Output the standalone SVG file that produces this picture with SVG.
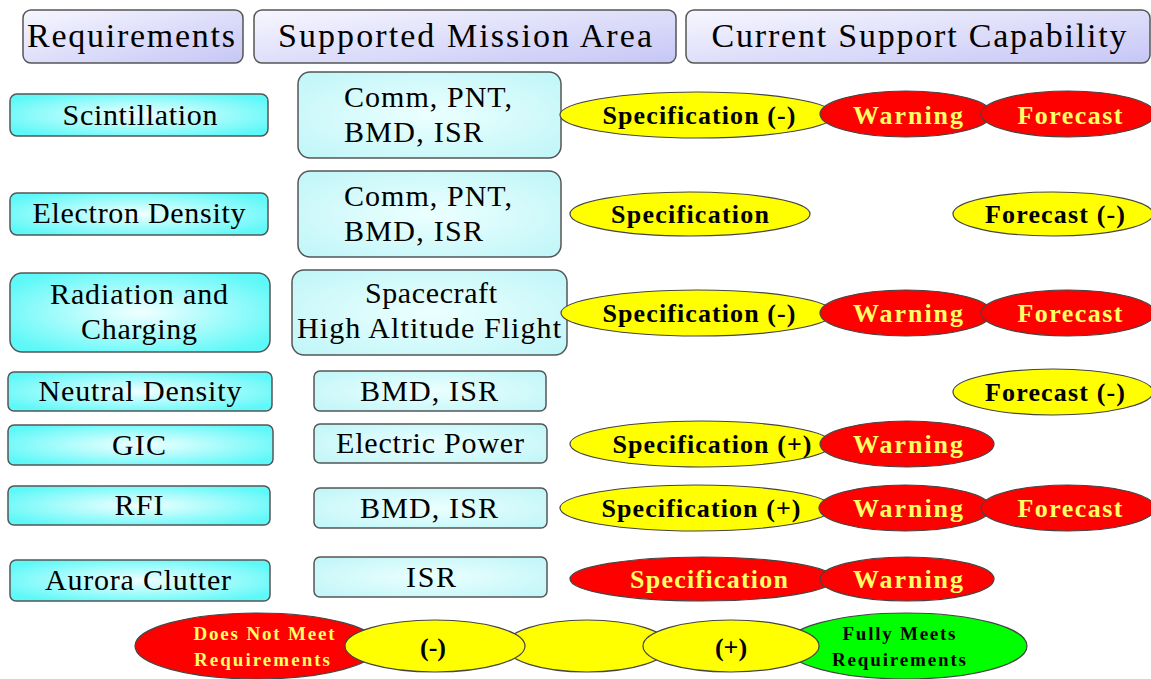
<svg xmlns="http://www.w3.org/2000/svg" width="1151" height="679" viewBox="0 0 1151 679">
<defs>
<linearGradient id="gHead" x1="0" y1="0" x2="1" y2="1">
<stop offset="0" stop-color="#f7f7ff"/>
<stop offset="1" stop-color="#c6c6f6"/>
</linearGradient>
<radialGradient id="gReq" cx="0.5" cy="0.5" r="0.6">
<stop offset="0" stop-color="#f2ffff"/>
<stop offset="1" stop-color="#5ef8f8"/>
</radialGradient>
<radialGradient id="gMis" cx="0.5" cy="0.5" r="0.65">
<stop offset="0" stop-color="#ecffff"/>
<stop offset="1" stop-color="#c2f6f8"/>
</radialGradient>
</defs>
<style>
text{font-family:'Liberation Serif','Times New Roman','DejaVu Serif',serif}
.hd{fill:url(#gHead);stroke:#555;stroke-width:1.5}
.rq{fill:url(#gReq);stroke:#555;stroke-width:1.5}
.ms{fill:url(#gMis);stroke:#555;stroke-width:1.5}
.ht{font-size:34px;fill:#000;text-anchor:middle}
.rt{font-size:30px;fill:#000;text-anchor:middle}
.y{fill:#ffff00;stroke:#444;stroke-width:1.2}
.r{fill:#ff0000;stroke:#444;stroke-width:1.2}
.g{fill:#00ff00;stroke:#444;stroke-width:1.2}
.et{font-weight:bold;font-size:26px;text-anchor:middle}
.k{fill:#000}
.w{fill:#ffff66}
.lt{font-weight:bold;font-size:19px;text-anchor:middle}
</style>
<rect width="1151" height="679" fill="#ffffff"/>

<g id="header-requirements">
<rect class="hd" x="23" y="10" width="220" height="53" rx="8"/>
<text class="ht" x="131" y="47" textLength="208" lengthAdjust="spacing">Requirements</text>
</g>
<g id="header-mission">
<rect class="hd" x="254" y="10" width="422" height="53" rx="8"/>
<text class="ht" x="465" y="47" textLength="374" lengthAdjust="spacing">Supported Mission Area</text>
</g>
<g id="header-capability">
<rect class="hd" x="686" y="10" width="464" height="53" rx="8"/>
<text class="ht" x="919" y="47" textLength="415" lengthAdjust="spacing">Current Support Capability</text>
</g>

<!-- Row 1 -->
<g id="req-scintillation">
<rect class="rq" x="10" y="94" width="258" height="42" rx="7"/>
<text class="rt" x="140" y="125" textLength="155" lengthAdjust="spacing">Scintillation</text>
</g>
<g id="mis-scintillation">
<rect class="ms" x="298" y="72" width="263" height="86" rx="12"/>
<text class="rt" x="344" y="107" style="text-anchor:start" textLength="168" lengthAdjust="spacing">Comm, PNT,</text>
<text class="rt" x="344" y="142" style="text-anchor:start" textLength="139" lengthAdjust="spacing">BMD, ISR</text>
</g>
<g id="cap-scintillation">
<ellipse class="y" cx="697" cy="115" rx="137" ry="23"/>
<text class="et k" x="699" y="124" textLength="193" lengthAdjust="spacing">Specification (-)</text>
<ellipse class="r" cx="906" cy="114" rx="86" ry="23"/>
<text class="et w" x="908" y="124" textLength="110" lengthAdjust="spacing">Warning</text>
<ellipse class="r" cx="1068" cy="114" rx="87" ry="23"/>
<text class="et w" x="1070" y="124" textLength="105" lengthAdjust="spacing">Forecast</text>
</g>

<!-- Row 2 -->
<g id="req-electron">
<rect class="rq" x="10" y="193" width="258" height="42" rx="7"/>
<text class="rt" x="139" y="223" textLength="213" lengthAdjust="spacing">Electron Density</text>
</g>
<g id="mis-electron">
<rect class="ms" x="298" y="171" width="263" height="86" rx="12"/>
<text class="rt" x="344" y="206" style="text-anchor:start" textLength="168" lengthAdjust="spacing">Comm, PNT,</text>
<text class="rt" x="344" y="241" style="text-anchor:start" textLength="139" lengthAdjust="spacing">BMD, ISR</text>
</g>
<g id="cap-electron">
<ellipse class="y" cx="690" cy="214" rx="120" ry="22"/>
<text class="et k" x="690" y="223" textLength="158" lengthAdjust="spacing">Specification</text>
<ellipse class="y" cx="1053" cy="214" rx="100" ry="22"/>
<text class="et k" x="1055" y="223" textLength="140" lengthAdjust="spacing">Forecast (-)</text>
</g>

<!-- Row 3 -->
<g id="req-radiation">
<rect class="rq" x="10" y="273" width="260" height="79" rx="12"/>
<text class="rt" x="139" y="304" textLength="178" lengthAdjust="spacing">Radiation and</text>
<text class="rt" x="139" y="339" textLength="116" lengthAdjust="spacing">Charging</text>
</g>
<g id="mis-radiation">
<rect class="ms" x="292" y="270" width="275" height="85" rx="12"/>
<text class="rt" x="431" y="303" textLength="132" lengthAdjust="spacing">Spacecraft</text>
<text class="rt" x="429" y="338" textLength="264" lengthAdjust="spacing">High Altitude Flight</text>
</g>
<g id="cap-radiation">
<ellipse class="y" cx="697" cy="313" rx="136" ry="23"/>
<text class="et k" x="699" y="322" textLength="193" lengthAdjust="spacing">Specification (-)</text>
<ellipse class="r" cx="906" cy="313" rx="86" ry="23"/>
<text class="et w" x="908" y="322" textLength="110" lengthAdjust="spacing">Warning</text>
<ellipse class="r" cx="1068" cy="313" rx="87" ry="23"/>
<text class="et w" x="1070" y="322" textLength="105" lengthAdjust="spacing">Forecast</text>
</g>

<!-- Row 4 -->
<g id="req-neutral">
<rect class="rq" x="8" y="372" width="264" height="39" rx="6"/>
<text class="rt" x="140" y="401" textLength="203" lengthAdjust="spacing">Neutral Density</text>
</g>
<g id="mis-neutral">
<rect class="ms" x="314" y="371" width="232" height="40" rx="6"/>
<text class="rt" x="429" y="401" textLength="138" lengthAdjust="spacing">BMD, ISR</text>
</g>
<g id="cap-neutral">
<ellipse class="y" cx="1053" cy="392" rx="100" ry="23"/>
<text class="et k" x="1055" y="401" textLength="140" lengthAdjust="spacing">Forecast (-)</text>
</g>

<!-- Row 5 -->
<g id="req-gic">
<rect class="rq" x="8" y="425" width="265" height="40" rx="6"/>
<text class="rt" x="139" y="455" textLength="54" lengthAdjust="spacing">GIC</text>
</g>
<g id="mis-gic">
<rect class="ms" x="314" y="424" width="233" height="39" rx="6"/>
<text class="rt" x="430" y="453" textLength="188" lengthAdjust="spacing">Electric Power</text>
</g>
<g id="cap-gic">
<ellipse class="y" cx="701" cy="444" rx="131" ry="23"/>
<text class="et k" x="712" y="453" textLength="199" lengthAdjust="spacing">Specification (+)</text>
<ellipse class="r" cx="907" cy="444" rx="87" ry="23"/>
<text class="et w" x="908" y="453" textLength="110" lengthAdjust="spacing">Warning</text>
</g>

<!-- Row 6 -->
<g id="req-rfi">
<rect class="rq" x="8" y="486" width="262" height="39" rx="6"/>
<text class="rt" x="139" y="515" textLength="49" lengthAdjust="spacing">RFI</text>
</g>
<g id="mis-rfi">
<rect class="ms" x="314" y="488" width="233" height="40" rx="6"/>
<text class="rt" x="429" y="518" textLength="138" lengthAdjust="spacing">BMD, ISR</text>
</g>
<g id="cap-rfi">
<ellipse class="y" cx="696" cy="508" rx="136" ry="23"/>
<text class="et k" x="701" y="517" textLength="199" lengthAdjust="spacing">Specification (+)</text>
<ellipse class="r" cx="905" cy="508" rx="86" ry="23"/>
<text class="et w" x="908" y="517" textLength="110" lengthAdjust="spacing">Warning</text>
<ellipse class="r" cx="1068" cy="508" rx="87" ry="23"/>
<text class="et w" x="1070" y="517" textLength="105" lengthAdjust="spacing">Forecast</text>
</g>

<!-- Row 7 -->
<g id="req-aurora">
<rect class="rq" x="10" y="560" width="260" height="41" rx="6"/>
<text class="rt" x="138" y="590" textLength="186" lengthAdjust="spacing">Aurora Clutter</text>
</g>
<g id="mis-aurora">
<rect class="ms" x="314" y="557" width="233" height="40" rx="6"/>
<text class="rt" x="431" y="587" textLength="50" lengthAdjust="spacing">ISR</text>
</g>
<g id="cap-aurora">
<ellipse class="r" cx="702" cy="579" rx="132" ry="22"/>
<text class="et w" x="709" y="588" textLength="158" lengthAdjust="spacing">Specification</text>
<ellipse class="r" cx="907" cy="579" rx="87" ry="22"/>
<text class="et w" x="908" y="588" textLength="110" lengthAdjust="spacing">Warning</text>
</g>

<!-- Legend -->
<g id="legend-not-meet">
<ellipse class="r" cx="257" cy="646" rx="122" ry="33"/>
<text class="lt w" x="264" y="640" textLength="141" lengthAdjust="spacing">Does Not Meet</text>
<text class="lt w" x="262" y="666" textLength="136" lengthAdjust="spacing">Requirements</text>
</g>
<g id="legend-middle">
<ellipse class="y" cx="587" cy="646" rx="82" ry="26"/>
</g>
<g id="legend-fully">
<ellipse class="g" cx="906" cy="646" rx="121" ry="33"/>
<text class="lt k" x="899" y="640" textLength="113" lengthAdjust="spacing">Fully Meets</text>
<text class="lt k" x="899" y="666" textLength="134" lengthAdjust="spacing">Requirements</text>
</g>
<g id="legend-minus">
<ellipse class="y" cx="435" cy="646" rx="90" ry="26"/>
<text class="et k" x="433" y="656" style="font-size:26px">(-)</text>
</g>
<g id="legend-plus">
<ellipse class="y" cx="731" cy="646" rx="88" ry="26"/>
<text class="et k" x="731" y="656" style="font-size:26px">(+)</text>
</g>
</svg>
